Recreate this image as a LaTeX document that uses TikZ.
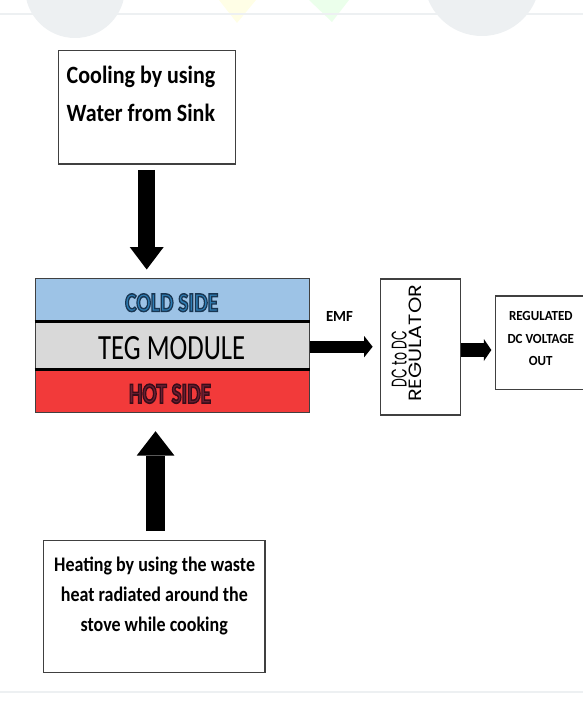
\documentclass[tikz,border=0pt]{standalone}
\usepackage{fontspec}
\setmainfont{Carlito}
\newfontfamily\poppins{Poppins}
\usepackage{graphicx}
\usetikzlibrary{arrows.meta,calc}
\definecolor{coldband}{HTML}{9DC3E6}
\definecolor{tegband}{HTML}{D9D9D9}
\definecolor{hotband}{HTML}{F23A3A}
\definecolor{coldfill}{HTML}{2E7DB4}
\definecolor{hotfill}{HTML}{6A1E32}
\definecolor{boxline}{HTML}{404040}
\definecolor{wmgray}{HTML}{EDF0F2}
\newcommand{\ctext}[1]{\scalebox{1}[1.13]{\fontsize{22pt}{22pt}\selectfont\bfseries #1}}
\newcommand{\htext}[1]{\scalebox{1}[1.15]{\fontsize{18pt}{18pt}\selectfont\bfseries #1}}
\newcommand{\otext}[1]{\scalebox{1}[1.07]{\fontsize{13pt}{13pt}\selectfont\bfseries #1}}
% outlined text: fill in current colour, stroke with given rgb
\newcommand{\outlined}[2]{\special{pdf:code q #1 RG 2 Tr 0.55 w}#2\special{pdf:code Q}}
\tikzset{
  box/.style={draw=boxline, line width=1.3pt, fill=white, inner sep=0pt},
  band/.style={draw=boxline, line width=1pt, inner sep=0pt, minimum width=274.3pt},
  sepline/.style={draw=black, line width=2.2pt},
  lbl/.style={inner sep=0pt, outer sep=0pt},
  fat/.style={draw=black}
}
\begin{document}
\begin{tikzpicture}[x=1pt,y=-1pt]
\useasboundingbox (0,0) rectangle (583,702);
\clip (0,0) rectangle (583,702);
% faint background watermark
\fill[wmgray] (75,-12) circle (50pt);
\fill[yellow!10] (219,0) -- (256,0) -- (237,23) -- cycle;
\fill[green!8] (309,0) -- (349,0) -- (332,22) -- cycle;
\fill[wmgray] (482,-22) circle (58pt);
\draw[wmgray, line width=2.5pt] (0,14) -- (583,14);
\draw[wmgray, line width=1.2pt] (0,692) -- (583,692);

% boxes
\node[box, minimum width=177.4pt, minimum height=113.3pt] (cool) at (147,107.35) {};
\node[box, minimum width=221.7pt, minimum height=132pt] (heat) at (154.15,606.7) {};
\node[box, minimum width=80pt, minimum height=136pt] (dc) at (420.5,347) {};
\node[box, minimum width=104.3pt, minimum height=93.3pt] (out) at (547.85,342.65) {};

% TEG stack
\node[band, fill=coldband, minimum height=42.7pt] (cold) at (172.15,299.65) {};
\node[band, fill=tegband, minimum height=49pt] (tegm) at (172.15,345.5) {};
\node[band, fill=hotband, minimum height=42.7pt] (hot) at (172.15,391.35) {};
\draw[sepline] (cold.south west) -- (cold.south east);
\draw[sepline] (hot.north west) -- (hot.north east);

% texts
\node[lbl, anchor=base west] (c1) at (66.7,83.3) {\ctext{Cooling by using}};
\node[lbl, anchor=base west] (c2) at (66.7,121.7) {\ctext{Water from Sink}};
\node[lbl, anchor=base] (h1) at (154.6,571.7) {\htext{Heating by using the waste}};
\node[lbl, anchor=base] (h2) at (154.4,601) {\htext{heat radiated around the}};
\node[lbl, anchor=base] (h3) at (154.2,631) {\htext{stove while cooking}};
\node[lbl] (coldt) at (171.7,302.7) {\resizebox{93pt}{17.7pt}{\bfseries\color{coldfill}\outlined{0.10 0.21 0.32}{COLD SIDE}}};
\node[lbl] (tegt) at (171.7,348) {\resizebox{147pt}{23pt}{TEG MODULE}};
\node[lbl] (hott) at (170,393.7) {\resizebox{82pt}{19pt}{\bfseries\color{hotfill}\outlined{0.22 0.05 0.10}{HOT SIDE}}};
\node[lbl] (emf) at (339.5,316.7) {\resizebox{27pt}{10pt}{\bfseries EMF}};
\node[lbl, rotate=90] (dct1) at (399.2,359) {\resizebox{56pt}{15pt}{\poppins DC to DC}};
\node[lbl, rotate=90] (dct2) at (415.8,343.3) {\resizebox{117pt}{12.5pt}{\poppins REGULATOR}};
\node[lbl, anchor=base] (o1) at (540.8,320.5) {\otext{REGULATED}};
\node[lbl, anchor=base] (o2) at (540.8,343.5) {\otext{DC VOLTAGE}};
\node[lbl, anchor=base] (o3) at (540.8,365.5) {\otext{OUT}};

% arrows
\draw[fat, line width=17pt, -{Triangle[length=22.5pt,width=34pt,line width=0pt]}]
  ($(cool.south)+(-0.3,5.3)$) -- ($(cool.south |- cold.north)+(-0.3,-8.3)$);
\draw[fat, line width=19pt, -{Triangle[length=24.3pt,width=37.6pt,line width=0pt]}]
  ($(heat.north)+(1.4,-9)$) -- ($(heat.north |- hot.south)+(1.4,18)$);
\draw[fat, line width=12pt, -{Triangle[length=8.5pt,width=21.3pt,line width=0pt]}]
  ($(tegm.east |- dc.west)+(0,-0.3)$) -- ($(dc.west)+(-7.2,-0.3)$);
\draw[fat, line width=13.7pt, -{Triangle[length=7.5pt,width=22pt,line width=0pt]}]
  ($(dc.east)+(0,3)$) -- ($(dc.east -| out.west)+(-3.7,3)$);
\end{tikzpicture}
\end{document}
